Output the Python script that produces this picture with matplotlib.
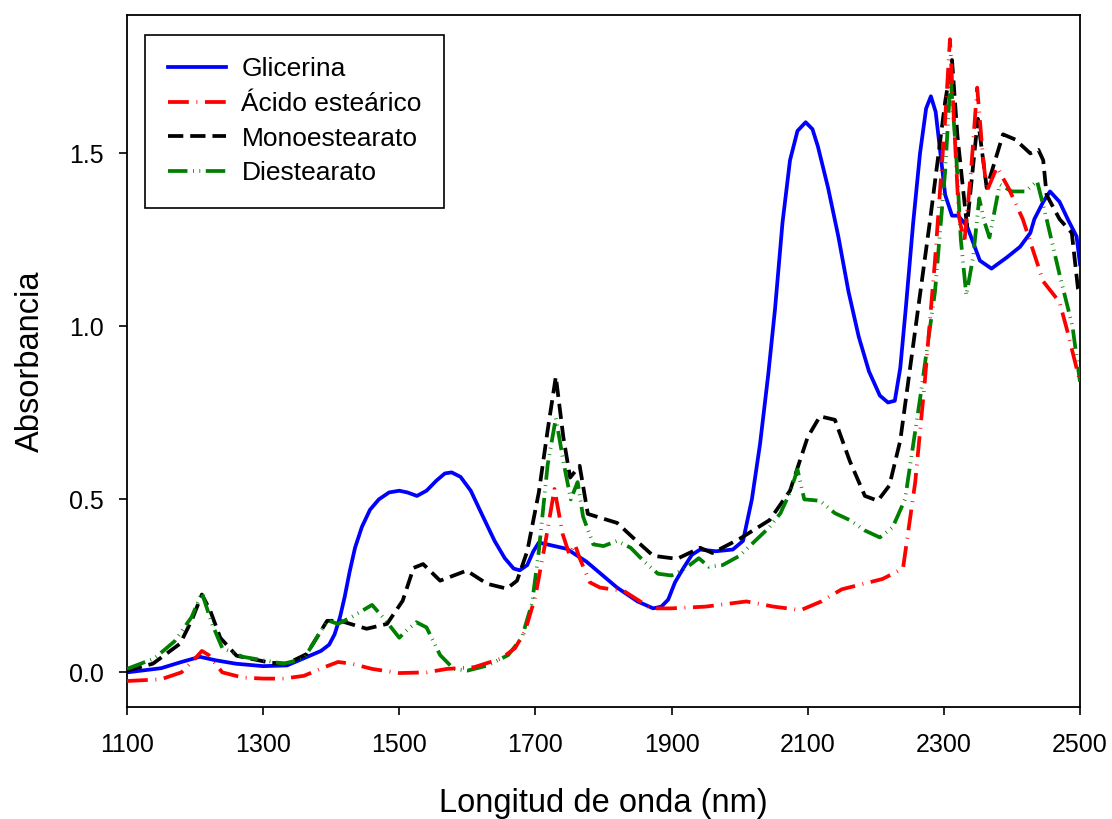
import matplotlib
matplotlib.use("Agg")
import matplotlib.pyplot as plt
from matplotlib.ticker import FormatStrFormatter

plt.rcParams['font.family'] = ['Liberation Sans', 'DejaVu Sans']
plt.rcParams['lines.scale_dashes'] = False

# Glicerina
x_gli = [1100, 1150, 1180, 1207, 1230, 1260, 1300, 1335, 1365, 1385, 1397, 1405, 1413,
         1420, 1427, 1435, 1445, 1457, 1470, 1485, 1500, 1512, 1526, 1540, 1555, 1567,
         1577, 1590, 1605, 1623, 1640, 1655, 1668, 1677, 1688, 1697, 1705, 1717, 1746,
         1775, 1820, 1850, 1873, 1885, 1895, 1905, 1917, 1930, 1942, 1965, 1990, 2005,
         2018, 2030, 2042, 2052, 2063, 2074, 2085, 2097, 2107, 2115, 2130, 2145, 2160,
         2175, 2190, 2206, 2218, 2228, 2236, 2244, 2255, 2265, 2274, 2281, 2288, 2295,
         2302, 2312, 2321, 2334, 2353, 2370, 2393, 2412, 2427, 2433, 2446, 2456, 2470,
         2482, 2495, 2500]
y_gli = [0.0, 0.012, 0.03, 0.045, 0.035, 0.025, 0.018, 0.02, 0.045, 0.062, 0.08, 0.11, 0.16,
         0.22, 0.29, 0.36, 0.42, 0.47, 0.50, 0.52, 0.525, 0.52, 0.51, 0.525, 0.555, 0.575,
         0.578, 0.565, 0.525, 0.45, 0.38, 0.33, 0.30, 0.295, 0.31, 0.35, 0.375, 0.37, 0.357,
         0.32, 0.245, 0.205, 0.185, 0.19, 0.21, 0.26, 0.30, 0.34, 0.355, 0.35, 0.355, 0.38,
         0.50, 0.66, 0.86, 1.05, 1.30, 1.48, 1.565, 1.59, 1.57, 1.52, 1.40, 1.26, 1.10,
         0.97, 0.87, 0.80, 0.78, 0.785, 0.88, 1.05, 1.30, 1.50, 1.63, 1.665, 1.62, 1.50,
         1.38, 1.32, 1.32, 1.29, 1.19, 1.167, 1.20, 1.23, 1.27, 1.31, 1.36, 1.39, 1.36,
         1.31, 1.26, 1.18]

# Ácido esteárico
x_aci = [1100, 1150, 1180, 1200, 1210, 1220, 1240, 1270, 1300, 1330, 1360, 1390, 1410,
         1430, 1460, 1500, 1540, 1570, 1610, 1650, 1670, 1685, 1700, 1715, 1728, 1740,
         1750, 1758, 1765, 1780, 1795, 1830, 1870, 1900, 1950, 2010, 2050, 2090, 2120,
         2150, 2180, 2210, 2240, 2258, 2272, 2287, 2302, 2309, 2316, 2322, 2330, 2340,
         2349, 2357, 2363, 2378, 2395, 2416, 2446, 2460, 2470, 2481, 2500]
y_aci = [-0.025, -0.02, 0.0, 0.04, 0.062, 0.05, 0.0, -0.015, -0.018, -0.018, -0.01, 0.015, 0.03,
         0.025, 0.01, -0.002, 0.0, 0.01, 0.015, 0.04, 0.07, 0.12, 0.22, 0.38, 0.53, 0.40,
         0.34, 0.37, 0.33, 0.26, 0.245, 0.235, 0.185, 0.185, 0.19, 0.205, 0.19, 0.18, 0.205,
         0.24, 0.255, 0.27, 0.30, 0.55, 0.84, 1.19, 1.60, 1.83, 1.55, 1.32, 1.24, 1.45,
         1.69, 1.50, 1.39, 1.46, 1.40, 1.31, 1.13, 1.095, 1.07, 0.99, 0.84]

# Monoestearato
x_mono = [1100, 1138, 1178, 1195, 1210, 1222, 1237, 1261, 1310, 1335, 1364, 1394, 1413,
          1452, 1482, 1505, 1521, 1535, 1560, 1599, 1629, 1658, 1673, 1688, 1705, 1718,
          1730, 1741, 1751, 1765, 1777, 1795, 1820, 1843, 1873, 1908, 1942, 1960, 2000,
          2044, 2074, 2100, 2118, 2140, 2162, 2184, 2203, 2220, 2236, 2258, 2280, 2302,
          2312, 2320, 2334, 2350, 2363, 2387, 2405, 2427, 2439, 2446, 2451, 2470, 2488,
          2497, 2500]
y_mono = [0.005, 0.025, 0.083, 0.15, 0.225, 0.18, 0.10, 0.048, 0.028, 0.025, 0.053, 0.149, 0.149,
          0.126, 0.14, 0.207, 0.302, 0.313, 0.265, 0.294, 0.256, 0.242, 0.265, 0.35, 0.52, 0.70,
          0.855, 0.68, 0.563, 0.597, 0.458, 0.447, 0.432, 0.39, 0.337, 0.328, 0.36, 0.345, 0.386,
          0.44, 0.525, 0.68, 0.74, 0.73, 0.61, 0.51, 0.496, 0.54, 0.67, 0.99, 1.31, 1.65,
          1.77, 1.55, 1.29, 1.60, 1.40, 1.555, 1.54, 1.50, 1.51, 1.48, 1.38, 1.31, 1.27,
          1.11, 1.10]

# Diestearato
x_di = [1100, 1140, 1170, 1195, 1210, 1225, 1240, 1270, 1300, 1330, 1360, 1385, 1395,
        1410, 1430, 1460, 1480, 1500, 1510, 1525, 1540, 1560, 1580, 1600, 1630, 1660,
        1680, 1695, 1705, 1718, 1730, 1742, 1752, 1762, 1770, 1785, 1800, 1820, 1840,
        1860, 1880, 1900, 1920, 1940, 1955, 1975, 2000, 2044, 2060, 2074, 2085, 2095,
        2118, 2140, 2162, 2184, 2206, 2225, 2243, 2265, 2287, 2302, 2310, 2318, 2325,
        2333, 2343, 2352, 2360, 2367, 2382, 2400, 2420, 2437, 2451, 2470, 2489, 2500]
y_di = [0.01, 0.04, 0.09, 0.16, 0.23, 0.14, 0.07, 0.045, 0.035, 0.025, 0.04, 0.12, 0.15,
        0.14, 0.16, 0.195, 0.15, 0.10, 0.12, 0.145, 0.13, 0.05, 0.01, 0.005, 0.02, 0.05,
        0.10, 0.20, 0.35, 0.60, 0.735, 0.60, 0.50, 0.55, 0.45, 0.37, 0.365, 0.38, 0.36,
        0.32, 0.285, 0.28, 0.30, 0.33, 0.305, 0.31, 0.337, 0.42, 0.46, 0.52, 0.586, 0.50,
        0.496, 0.46, 0.44, 0.41, 0.39, 0.42, 0.50, 0.79, 1.10, 1.45, 1.72, 1.50, 1.25,
        1.09, 1.20, 1.37, 1.30, 1.257, 1.41, 1.39, 1.39, 1.42, 1.31, 1.15, 1.0, 0.84]

fig = plt.figure(figsize=(11.12, 8.19), dpi=100)
ax = fig.add_axes([0.1142, 0.1368, 0.8570, 0.8449])

ax.plot(x_gli, y_gli, color='#0000ff', lw=2.7, solid_joinstyle='round',
        label='Glicerina', zorder=2)
ax.plot(x_aci, y_aci, color='#ff0000', lw=2.7, dashes=(15, 5.5, 0.6, 5.5),
        label='Ácido esteárico', zorder=5)
ax.plot(x_mono, y_mono, color='black', lw=2.7, dashes=(11, 5),
        label='Monoestearato', zorder=3)
ax.plot(x_di, y_di, color='#008000', lw=2.7, dashes=(14, 4, 0.6, 4, 0.6, 4),
        label='Diestearato', zorder=4)

ax.set_xlim(1100, 2500)
ax.set_ylim(-0.1, 1.9)
ax.set_xticks([1100, 1300, 1500, 1700, 1900, 2100, 2300, 2500])
ax.set_yticks([0.0, 0.5, 1.0, 1.5])
ax.yaxis.set_major_formatter(FormatStrFormatter('%.1f'))
ax.tick_params(direction='out', length=6, width=1.2, labelsize=18)
ax.tick_params(axis='x', pad=13)
ax.tick_params(axis='y', pad=11)
for s in ax.spines.values():
    s.set_linewidth(1.3)

ax.set_xlabel('Longitud de onda (nm)', fontsize=23.5, labelpad=22)
ax.set_ylabel('Absorbancia', fontsize=23.5, labelpad=16)

leg = ax.legend(loc='upper left', bbox_to_anchor=(0.019, 0.971), borderaxespad=0,
                fontsize=19, handlelength=2.2, handletextpad=0.6, labelspacing=0.4,
                borderpad=0.85, fancybox=False, framealpha=1, edgecolor='black')
leg.get_frame().set_linewidth(1.2)

fig.savefig('out.png', dpi=100)
